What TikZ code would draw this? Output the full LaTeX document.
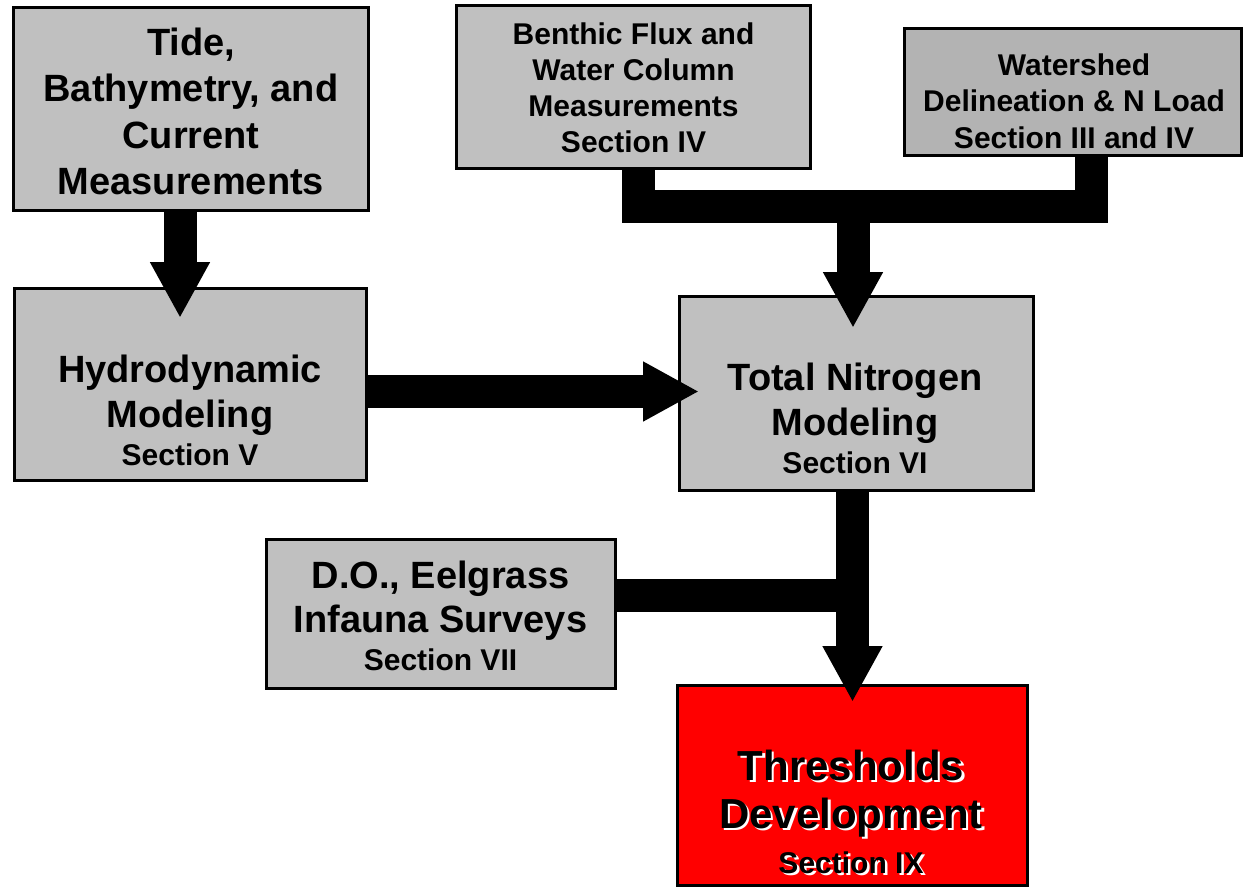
\documentclass[tikz,border=0pt]{standalone}
\usepackage{fontspec}
\setmainfont{Liberation Sans}
\usetikzlibrary{arrows.meta}
\definecolor{boxgray}{HTML}{C0C0C0}
\definecolor{wsgray}{HTML}{B3B3B3}
\definecolor{boxred}{HTML}{FF0000}
\newcommand{\secsz}{\fontsize{30}{36}\selectfont}
\newcommand{\shtext}[1]{\leavevmode\rlap{\kern2.5pt\raisebox{-2.5pt}[0pt][0pt]{\color{white}#1}}#1}
\begin{document}
\begin{tikzpicture}[x=1pt,y=-1pt,
  box/.style={rectangle, draw=black, line width=3pt, fill=boxgray, inner sep=0pt, outer sep=0pt},
  txt/.style={align=center, inner sep=0pt, outer sep=0pt},
  arr/.style={line width=33pt, line cap=butt, -{Triangle[length=56pt,width=56pt]}},
  bar/.style={line width=33pt, line join=miter, line cap=butt}
]
\useasboundingbox (0,0) rectangle (1244,889);

% boxes
\node[box, minimum width=355pt, minimum height=203pt] (tide) at (191,109) {};
\node[box, minimum width=354pt, minimum height=163pt] (benthic) at (633.5,87) {};
\node[box, fill=wsgray, minimum width=337pt, minimum height=127pt] (watershed) at (1073,92) {};
\node[box, minimum width=352pt, minimum height=192pt] (hydro) at (190.5,384.5) {};
\node[box, minimum width=354pt, minimum height=194pt] (tn) at (856.5,393.5) {};
\node[box, minimum width=349pt, minimum height=149pt] (do) at (441,614) {};
\node[box, fill=boxred, minimum width=350pt, minimum height=200pt] (thresh) at (852.5,785.5) {};

% connector coordinates
\coordinate (a1tip) at (180,318);
\coordinate (bjl) at (638.5,206.5);
\coordinate (bj) at (853,206.5);
\coordinate (bjr) at (1091.5,206.5);
\coordinate (tntip) at (853,328);
\coordinate (hytip) at (699,391.5);
\coordinate (thtip) at (852.5,702);
\coordinate (dj) at (852.5,595.5);

% connectors
\draw[arr] (tide.south -| a1tip) -- (a1tip);
\draw[bar] (benthic.south -| bjl) -- (bjl) -- (bjr) -- (watershed.south -| bjr);
\draw[arr] (bj) -- (tntip);
\draw[arr] (hydro.east |- hytip) -- (hytip);
\draw[arr] (tn.south -| thtip) -- (thtip);
\draw[bar] (do.east |- dj) -- (dj);

% texts
\node[txt, font=\bfseries\fontsize{38}{46.5}\selectfont] (tideT) at (191,111.5)
  {Tide,\\Bathymetry, and\\Current\\Measurements};
\node[txt, font=\bfseries\fontsize{30}{36}\selectfont] (benthicT) at (633.5,88)
  {Benthic Flux and\\Water Column\\Measurements\\Section IV};
\node[txt, font=\bfseries\fontsize{30}{36.5}\selectfont] (watershedT) at (1074,101)
  {Watershed\\Delineation \& N Load\\Section III and IV};
\node[txt, font=\bfseries\fontsize{38}{45}\selectfont] (hydroT) at (190,410)
  {Hydrodynamic\\Modeling\\[-7pt]{\secsz Section V}};
\node[txt, font=\bfseries\fontsize{38}{45}\selectfont] (tnT) at (855,418)
  {Total Nitrogen\\Modeling\\[-7pt]{\secsz Section VI}};
\node[txt, font=\bfseries\fontsize{38}{44}\selectfont] (doT) at (440.5,615.5)
  {D.O., Eelgrass\\Infauna Surveys\\[-6pt]{\secsz Section VII}};
\node[txt, text=black, font=\bfseries\fontsize{42}{48}\selectfont] (threshT) at (851,811.5)
  {\shtext{Thresholds}\\\shtext{Development}\\[-3pt]{\secsz\shtext{Section IX}}};
\end{tikzpicture}
\end{document}
